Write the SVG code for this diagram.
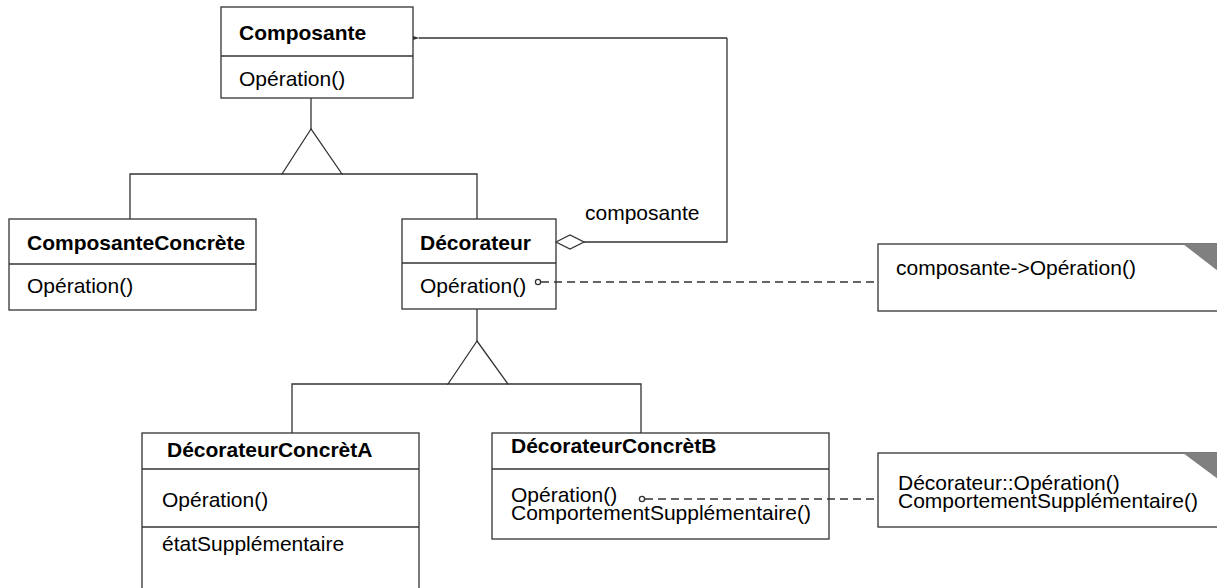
<svg xmlns="http://www.w3.org/2000/svg" width="1217" height="588" viewBox="0 0 1217 588">
<style>
.box{fill:#fff;stroke:#333;stroke-width:1.3}
.ln{fill:none;stroke:#333;stroke-width:1.3}
.dash{fill:none;stroke:#333;stroke-width:1.3;stroke-dasharray:8 5}
.t{font-family:"Liberation Sans",Arial,sans-serif;font-size:21px;fill:#000}
.b{font-weight:bold}
.ear{fill:#808080;stroke:none}
</style>
<defs>
<marker id="arr" viewBox="0 0 7 6" refX="0.5" refY="3" markerWidth="7" markerHeight="6" markerUnits="userSpaceOnUse" orient="auto">
<path d="M7,0.8 L0,3 L7,5.2 z" fill="#333"/>
</marker>
</defs>
<rect width="1217" height="588" fill="#fff"/>
<g id="composante">
<rect class="box" x="221" y="7" width="192" height="91"/>
<line class="ln" x1="221" y1="56" x2="413" y2="56"/>
<text class="t b" x="239" y="40">Composante</text>
<text class="t" x="239" y="86">Opération()</text>
</g>
<g id="composanteConcrete">
<rect class="box" x="9" y="219" width="247" height="91"/>
<line class="ln" x1="9" y1="264" x2="256" y2="264"/>
<text class="t b" x="27" y="250">ComposanteConcrète</text>
<text class="t" x="27" y="293">Opération()</text>
</g>
<g id="decorateur">
<rect class="box" x="402" y="219" width="154" height="90"/>
<line class="ln" x1="402" y1="263" x2="556" y2="263"/>
<text class="t b" x="420" y="250">Décorateur</text>
<text class="t" x="420" y="293">Opération()</text>
</g>
<text class="t" x="585" y="220">composante</text>
<g id="decorateurConcretA">
<rect class="box" x="142" y="433" width="277" height="160"/>
<line class="ln" x1="142" y1="469" x2="419" y2="469"/>
<line class="ln" x1="142" y1="527" x2="419" y2="527"/>
<text class="t b" x="167" y="457">DécorateurConcrètA</text>
<text class="t" x="162" y="507">Opération()</text>
<text class="t" x="162" y="551">étatSupplémentaire</text>
</g>
<g id="decorateurConcretB">
<rect class="box" x="492" y="433" width="337" height="106"/>
<line class="ln" x1="492" y1="469" x2="829" y2="469"/>
<text class="t b" x="511" y="453">DécorateurConcrètB</text>
<text class="t" x="511" y="502">Opération()</text>
<text class="t" x="511" y="520">ComportementSupplémentaire()</text>
</g>
<g id="note1">
<rect class="box" x="878" y="244" width="345" height="67"/>
<polygon class="ear" points="1183,244 1218,244 1218,271"/>
<text class="t" x="896" y="275">composante-&gt;Opération()</text>
</g>
<g id="note2">
<rect class="box" x="878" y="453" width="345" height="74"/>
<polygon class="ear" points="1183,453 1218,453 1218,479"/>
<text class="t" x="898" y="490">Décorateur::Opération()</text>
<text class="t" x="898" y="508">ComportementSupplémentaire()</text>
</g>
<g id="connectors">
<path class="ln" d="M727,38 L419,38" marker-end="url(#arr)"/>
<path class="ln" d="M584,242 L727,242 L727,38"/>
<polygon class="box" points="556,242 570,235 584,242 570,249"/>
<path class="ln" d="M311,98 L311,129"/>
<polygon class="box" points="311,129 282,174 342,174"/>
<path class="ln" d="M130,219 L130,174 L282,174 M342,174 L477,174 L477,219"/>
<path class="ln" d="M477,309 L477,341"/>
<polygon class="box" points="477,341 448,384 508,384"/>
<path class="ln" d="M292,433 L292,384 L448,384 M508,384 L641,384 L641,433"/>
<circle class="box" cx="538" cy="282" r="2.6"/>
<path class="dash" d="M541,282 L878,282"/>
<circle class="box" cx="642" cy="499" r="2.6"/>
<path class="dash" d="M645,499 L878,499"/>
</g>
</svg>
